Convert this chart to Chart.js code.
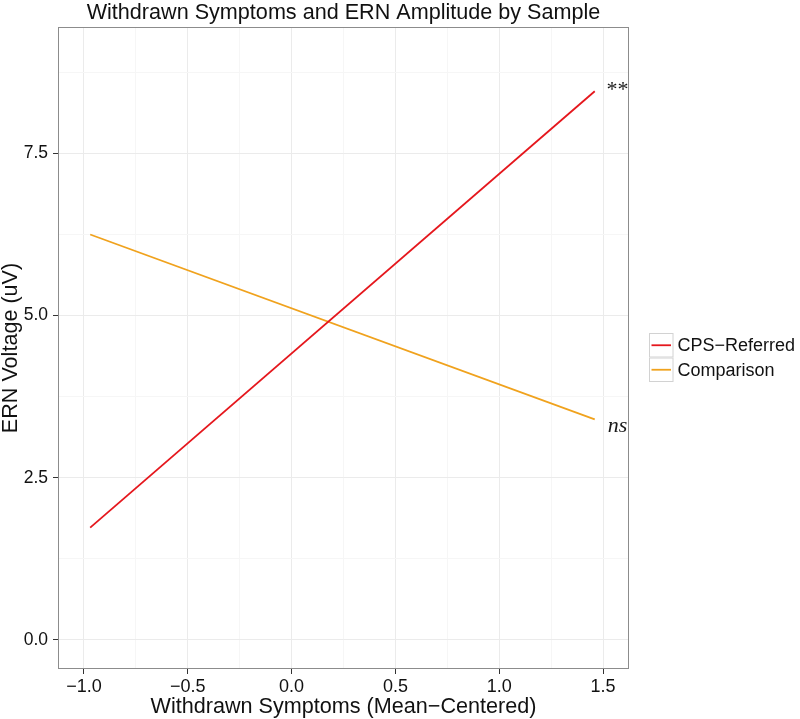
<!DOCTYPE html>
<html>
<head>
<meta charset="utf-8">
<script src="https://cdn.jsdelivr.net/npm/chart.js@4.4.1/dist/chart.umd.min.js"></script>
<style>
  html, body { margin: 0; padding: 0; background: #fff; }
  #wrap { width: 800px; height: 719px; }
</style>
</head>
<body>
<div id="wrap"><canvas id="ernChart" width="800" height="719"></canvas></div>
<script>
// values
const xEnds = [-0.97, 1.46];
const cpsReferred = [1.73, 8.46];
const comparison = [6.25, 3.40];
const seriesNames = ['CPS\u2212Referred', 'Comparison'];
const seriesColors = ['#e5171d', '#f0a21d'];
const xTicks = [-1.0, -0.5, 0.0, 0.5, 1.0, 1.5];
const yTicks = [0.0, 2.5, 5.0, 7.5];
const sigLabels = ['**', 'ns'];
const sigX = [1.57, 1.57];
const sigY = [8.48, 3.30];

const SANS = '"Liberation Sans", Arial, Helvetica, sans-serif';
const SERIF = '"Liberation Serif", "Times New Roman", serif';

function fmt(v) {
    return v.toFixed(1).replace('-', '\u2212');
}

// major ticks plus ggplot-style minor breaks halfway between them
function withMinor(majors, min, max) {
    const step = majors[1] - majors[0];
    const ext = [majors[0] - step].concat(majors, [majors[majors.length - 1] + step]);
    const all = majors.slice();
    for (let i = 0; i < ext.length - 1; i++) {
        all.push((ext[i] + ext[i + 1]) / 2);
    }
    return all.filter(v => v >= min && v <= max).sort((a, b) => a - b);
}

function isMajor(list, v) {
    return list.some(t => Math.abs(t - v) < 1e-9);
}

function toPoints(ys) {
    return xEnds.map((x, i) => ({ x: x, y: ys[i] }));
}

const panelPlugin = {
    id: 'panelBorder',
    afterDatasetsDraw(chart) {
        const { ctx, chartArea: a } = chart;
        ctx.save();
        ctx.strokeStyle = '#8c8c8c';
        ctx.lineWidth = 1;
        ctx.strokeRect(a.left + 0.5, a.top + 0.5, a.right - a.left - 1, a.bottom - a.top - 1);
        ctx.restore();
    }
};

const sigPlugin = {
    id: 'sigLabels',
    afterDatasetsDraw(chart) {
        const { ctx, scales } = chart;
        ctx.save();
        ctx.fillStyle = '#1a1a1a';
        ctx.textAlign = 'center';
        ctx.textBaseline = 'middle';
        sigLabels.forEach((lab, i) => {
            ctx.font = (lab === 'ns' ? 'italic ' : '') + '22px ' + SERIF;
            ctx.fillText(lab, scales.x.getPixelForValue(sigX[i]), scales.y.getPixelForValue(sigY[i]));
        });
        ctx.restore();
    }
};

const legendPlugin = {
    id: 'sideLegend',
    afterDraw(chart) {
        const ctx = chart.ctx;
        const key = 24.5;
        const left = chart.chartArea.right + 20;
        const top = chart.height / 2 - key * seriesNames.length / 2 - 2;
        ctx.save();
        seriesNames.forEach((name, i) => {
            const y = top + i * key;
            ctx.fillStyle = '#fff';
            ctx.fillRect(left, y, key, key);
            ctx.strokeStyle = '#d2d2d2';
            ctx.lineWidth = 1;
            ctx.strokeRect(left + 0.5, y + 0.5, key - 1, key - 1);
            ctx.strokeStyle = seriesColors[i];
            ctx.lineWidth = 1.8;
            ctx.beginPath();
            ctx.moveTo(left + 2.5, y + key / 2);
            ctx.lineTo(left + key - 2.5, y + key / 2);
            ctx.stroke();
            ctx.fillStyle = '#111';
            ctx.font = '18px ' + SANS;
            ctx.textAlign = 'left';
            ctx.textBaseline = 'middle';
            ctx.fillText(name, left + key + 4, y + key / 2 + 1);
        });
        ctx.restore();
    }
};

const xMin = -1.125, xMax = 1.625;
const yMin = -0.45, yMax = 9.45;

new Chart(document.getElementById('ernChart'), {
    type: 'scatter',
    data: {
        datasets: [
            {
                label: seriesNames[0],
                data: toPoints(cpsReferred),
                showLine: true,
                borderColor: seriesColors[0],
                borderWidth: 1.8,
                pointRadius: 0,
            },
            {
                label: seriesNames[1],
                data: toPoints(comparison),
                showLine: true,
                borderColor: seriesColors[1],
                borderWidth: 1.8,
                pointRadius: 0,
            }
        ]
    },
    options: {
        responsive: false,
        animation: false,
        devicePixelRatio: 1,
        layout: { padding: { left: 0, right: 171, top: 0, bottom: 0 } },
        plugins: {
            legend: { display: false },
            tooltip: { enabled: false },
            title: {
                display: true,
                fullSize: false,
                text: 'Withdrawn Symptoms and ERN Amplitude by Sample',
                color: '#111',
                font: { family: SANS, size: 21.6, weight: 'normal', lineHeight: 1 },
                padding: { top: 2.5, bottom: 2.9 }
            }
        },
        scales: {
            x: {
                type: 'linear',
                min: xMin,
                max: xMax,
                afterBuildTicks: s => { s.ticks = withMinor(xTicks, xMin, xMax).map(v => ({ value: v })); },
                afterFit: s => { s.height = 50; },
                border: { display: false },
                grid: {
                    color: c => isMajor(xTicks, c.tick.value) ? '#ebebeb' : '#f6f6f6',
                    tickColor: c => isMajor(xTicks, c.tick.value) ? '#333' : 'rgba(0,0,0,0)',
                    tickLength: 5,
                    tickWidth: 1,
                    lineWidth: 1
                },
                ticks: {
                    autoSkip: false,
                    maxRotation: 0,
                    padding: 2,
                    color: '#111',
                    font: { family: SANS, size: 18 },
                    callback: v => isMajor(xTicks, v) ? fmt(v) : ''
                },
                title: {
                    display: true,
                    text: 'Withdrawn Symptoms (Mean\u2212Centered)',
                    color: '#111',
                    font: { family: SANS, size: 21.6, lineHeight: 1 },
                    padding: { top: 0, bottom: 1 }
                }
            },
            y: {
                type: 'linear',
                min: yMin,
                max: yMax,
                afterBuildTicks: s => { s.ticks = withMinor(yTicks, yMin, yMax).map(v => ({ value: v })); },
                afterFit: s => { s.width = 58; },
                border: { display: false },
                grid: {
                    color: c => isMajor(yTicks, c.tick.value) ? '#ebebeb' : '#f6f6f6',
                    tickColor: c => isMajor(yTicks, c.tick.value) ? '#333' : 'rgba(0,0,0,0)',
                    tickLength: 5,
                    tickWidth: 1,
                    lineWidth: 1
                },
                ticks: {
                    autoSkip: false,
                    padding: 5,
                    color: '#111',
                    font: { family: SANS, size: 17.5 },
                    callback: v => isMajor(yTicks, v) ? fmt(v) : ''
                },
                title: {
                    display: true,
                    text: 'ERN Voltage (uV)',
                    color: '#111',
                    font: { family: SANS, size: 21.6, lineHeight: 1 },
                    padding: { top: 0, bottom: 0 }
                }
            }
        }
    },
    plugins: [panelPlugin, sigPlugin, legendPlugin]
});
</script>
</body>
</html>
